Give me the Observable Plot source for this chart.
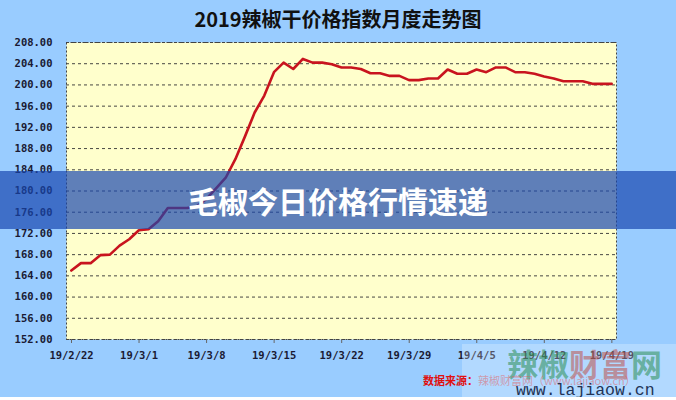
<!DOCTYPE html>
<html><head><meta charset="utf-8">
<script src="https://cdn.jsdelivr.net/npm/d3@7"></script>
<script src="https://cdn.jsdelivr.net/npm/@observablehq/plot@0.6"></script>
<style>
html,body{margin:0;padding:0}
body{background:#99CCFF;width:676px;height:400px;position:relative;overflow:hidden;font-family:"Noto Sans CJK SC",sans-serif}
#title{height:32px;line-height:38px;text-align:center;font-size:20px;font-weight:bold;color:#111;white-space:nowrap}
#chart svg{display:block}
#band{position:absolute;left:0;top:171px;width:676px;height:58px;background:rgba(23,70,175,0.69);text-align:center;line-height:58px;color:#fff;font-size:30px;font-weight:bold}
#wmbox{position:absolute;left:462px;top:344px;width:214px;height:53px;background:rgba(255,255,255,0.25)}
#wmbig{position:absolute;left:507px;top:344px;font-size:31px;line-height:38px;font-weight:bold;white-space:nowrap}
#src{position:absolute;left:423px;top:373px;font-size:11px;line-height:14px;font-weight:bold;white-space:nowrap;color:#e01010}
#url{position:absolute;left:516px;top:382px;font-family:"Liberation Mono",monospace;font-size:16.5px;line-height:18px;color:#223355;white-space:nowrap}
#foot{position:absolute;left:0;top:397px;width:676px;height:3px;background:#fff}
</style></head><body>
<div id="title">2019辣椒干价格指数月度走势图</div>
<div id="chart"></div>
<div id="band">毛椒今日价格行情速递</div>
<div id="wmbox"></div>
<div id="wmbig"><span style="color:rgba(40,140,80,0.55)">辣椒</span><span style="color:rgba(190,70,60,0.5)">财富</span><span style="color:rgba(40,140,80,0.55)">网</span></div>
<div id="src">数据来源：<span style="color:rgba(230,90,90,0.5);font-weight:normal">辣椒财富网（www.lajiaow.cn）</span></div>
<div id="url">www.lajiaow.cn</div>
<div id="foot"></div>
<script>
const startDate = "2019-02-22";
const endDate = "2019-04-20";
const prices = [165.0,166.4,166.4,167.9,168.0,169.7,170.9,172.6,172.8,174.3,
176.8,176.8,176.8,177.1,178.5,180.5,182.5,186.0,190.3,194.8,
198.0,202.4,204.2,203.0,204.9,204.2,204.2,203.9,203.3,203.3,
203.0,202.2,202.2,201.7,201.7,200.9,200.9,201.2,201.2,202.9,
202.1,202.1,202.9,202.4,203.3,203.3,202.4,202.4,202.1,201.6,
201.2,200.7,200.7,200.7,200.2,200.2,200.2];
const tickDates = ["2019-02-22","2019-03-01","2019-03-08","2019-03-15","2019-03-22","2019-03-29","2019-04-05","2019-04-12","2019-04-19"];
const tickLabels = ["19/2/22","19/3/1","19/3/8","19/3/15","19/3/22","19/3/29","19/4/5","19/4/12","19/4/19"];
const yTicks = [152,156,160,164,168,172,176,180,184,188,192,196,200,204,208];

const start = new Date(startDate + "T00:00:00Z");
const data = prices.map((p, i) => ({date: d3.utcHour.offset(d3.utcDay.offset(start, i), 12), price: p}));
const tickDateObjs = tickDates.map(s => new Date(s + "T00:00:00Z"));
const labelMap = new Map(tickDateObjs.map((d, i) => [+d, tickLabels[i]]));

const chart = Plot.plot({
  width: 676, height: 368,
  marginLeft: 66, marginRight: 60, marginTop: 10, marginBottom: 61,
  style: {background: "transparent", fontFamily: "'DejaVu Sans Mono', monospace", fontSize: "10.5px", fontWeight: "bold", color: "#111"},
  x: {type: "utc", domain: [start, new Date(endDate + "T00:00:00Z")]},
  y: {domain: [152, 208]},
  marks: [
    Plot.frame({fill: "#FFFFCC", stroke: null}),
    Plot.gridY(yTicks, {stroke: "#333", strokeOpacity: 0.9, strokeDasharray: "3,3"}),
    Plot.frame({stroke: "#444", strokeDasharray: "2,2"}),
    Plot.axisY(yTicks, {tickSize: 0, tickPadding: 14, tickFormat: d => d.toFixed(2), label: null, fill: "#1a1a33"}),
    Plot.axisX(tickDateObjs, {tickSize: 4, tickPadding: 8, tickFormat: d => labelMap.get(+d), label: null, stroke: "#666", fill: "#1a1a33", textAnchor: "middle", dx: 5}),
    Plot.line(data, {x: "date", y: "price", stroke: "#C8141E", strokeWidth: 2.6, strokeLinejoin: "round"})
  ]
});
document.getElementById("chart").appendChild(chart);
</script>
</body></html>
